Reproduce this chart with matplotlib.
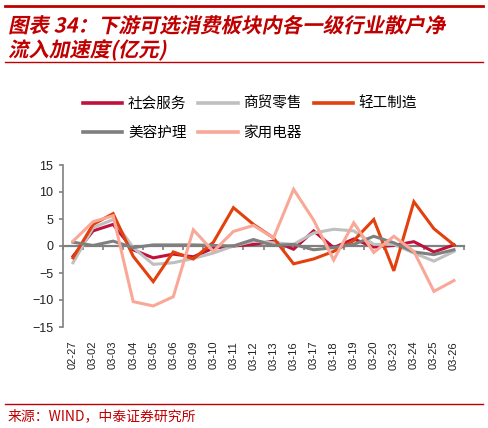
import numpy as np
import matplotlib
matplotlib.use("Agg")
import matplotlib.pyplot as plt
from matplotlib.lines import Line2D
from matplotlib.transforms import Affine2D
from matplotlib import patheffects

plt.rcParams["font.family"] = ["Liberation Sans", "Noto Sans CJK SC", "DejaVu Sans"]
CJK = ["Noto Sans CJK SC", "DejaVu Sans"]

cats = ["02-27", "03-02", "03-03", "03-04", "03-05", "03-06", "03-09", "03-10",
        "03-11", "03-12", "03-13", "03-16", "03-17", "03-18", "03-19", "03-20",
        "03-23", "03-24", "03-25", "03-26"]

social = [-1.9, 2.8, 4.0, -0.7, -2.2, -1.5, -2.0, -0.4, 0.0, 0.3,
          0.9, -0.6, 2.8, -0.3, 1.3, -0.2, 0.1, 0.8, -1.1, 0.2]
retail = [-3.1, 3.4, 4.9, -0.3, -3.4, -3.1, -2.3, -1.3, 0.0, 0.9,
          0.6, 0.3, 2.4, 3.1, 2.8, 0.3, 0.3, -1.3, -2.8, -1.0]
light_mfg = [-2.2, 4.0, 6.0, -1.9, -6.6, -1.1, -2.4, 0.7, 7.1, 4.0,
             1.5, -3.3, -2.4, -1.0, 1.0, 4.9, -4.6, 8.2, 3.2, 0.2]
beauty = [0.7, 0.1, 0.9, -0.3, 0.2, 0.2, 0.2, 0.1, 0.0, 1.2,
          0.1, 0.3, -0.7, -0.3, 0.3, 1.8, 0.6, -1.1, -1.6, -0.7]
appliance = [0.9, 4.5, 5.6, -10.3, -11.1, -9.4, 3.0, -1.0, 2.7, 3.8,
             1.5, 10.5, 4.8, -2.6, 4.3, -1.2, 1.8, -1.0, -8.4, -6.4]

names = ["社会服务", "商贸零售", "轻工制造", "美容护理", "家用电器"]
colors = ["#C0103C", "#BFBFBF", "#E2400C", "#7F7F7F", "#F9A898"]
series = [social, retail, light_mfg, beauty, appliance]

RED = "#C00000"


class Slant(patheffects.AbstractPathEffect):
    # fake italic: shear the text path around its own baseline
    def __init__(self, deg=12):
        super().__init__()
        self.deg = deg

    def draw_path(self, renderer, gc, tpath, affine, rgbFace=None):
        m = affine.get_matrix()
        e, f = m[0, 2], m[1, 2]
        sk = Affine2D().translate(-e, -f).skew_deg(self.deg, 0).translate(e, f)
        renderer.draw_path(gc, tpath, affine + sk, rgbFace)


fig = plt.figure(figsize=(4.88, 4.28), dpi=100)
ax = fig.add_axes([63 / 488, 1 - 327 / 428, (464 - 63) / 488, (327 - 165) / 428])

x = np.arange(len(cats))
handles = []
for vals, name, c in zip(series, names, colors):
    h, = ax.plot(x, vals, color=c, lw=2.2, label=name, solid_joinstyle="miter", zorder=3)
    handles.append(h)

ax.set_xlim(-0.5, len(cats) - 0.5)
ax.set_ylim(-15, 15)
ax.set_yticks([-15, -10, -5, 0, 5, 10, 15])
ax.set_yticklabels(["\u221215", "\u221210", "\u22125", "0", "5", "10", "15"])

for s in ["top", "right"]:
    ax.spines[s].set_visible(False)
ax.spines["left"].set_color("#808080")
ax.spines["left"].set_linewidth(1.2)
ax.spines["bottom"].set_position(("data", 0))
ax.spines["bottom"].set_color("#808080")
ax.spines["bottom"].set_linewidth(1.6)
ax.spines["bottom"].set_zorder(2)

# boundary ticks on the zero line
ax.set_xticks(np.arange(-0.5, len(cats), 1.0))
ax.set_xticklabels([])
ax.tick_params(axis="x", direction="out", length=3, width=1.2, color="#808080")
ax.tick_params(axis="y", direction="out", length=3, width=1.2, color="#808080",
               labelsize=9, pad=4, labelcolor="#222222")

sec = ax.secondary_xaxis("bottom")
sec.set_xticks(x)
sec.set_xticklabels(cats, rotation=90, fontsize=8, color="#222222")
sec.tick_params(length=0, pad=10)
sec.spines["bottom"].set_visible(False)

# legend: reorder so rows read like the original
order = [0, 3, 1, 4, 2]
leg = fig.legend([handles[i] for i in order], [names[i] for i in order],
                 ncol=3, loc="upper left", bbox_to_anchor=(77 / 488, 1 - 91 / 428),
                 frameon=False, prop={"family": CJK, "size": 10.5},
                 handlelength=2.7, handletextpad=0.4, columnspacing=0.8,
                 labelspacing=1.05, borderaxespad=0)
for ln in leg.get_lines():
    ln.set_linewidth(2.6)

# title block
fig.add_artist(Line2D([5 / 488, 483 / 488], [1 - 6 / 428] * 2, color=RED, lw=2))
fig.add_artist(Line2D([5 / 488, 483 / 488], [1 - 62 / 428] * 2, color=RED, lw=1))
t1 = fig.text(8 / 488, 1 - 26 / 428, "图表 34：下游可选消费板块内各一级行业散户净",
              family=CJK, fontsize=14.7, fontweight="bold", color=RED, va="center")
t2 = fig.text(8 / 488, 1 - 50 / 428, "流入加速度(亿元)",
              family=CJK, fontsize=14.7, fontweight="bold", color=RED, va="center")
for t in (t1, t2):
    t.set_path_effects([Slant(12)])

# source footer
fig.add_artist(Line2D([5 / 488, 483 / 488], [1 - 404 / 428] * 2, color=RED, lw=1))
fig.text(8 / 488, 1 - 416 / 428, "来源：WIND，中泰证券研究所", family=CJK,
         fontsize=10, color=RED, va="center")

fig.savefig("out.png", dpi=100)
